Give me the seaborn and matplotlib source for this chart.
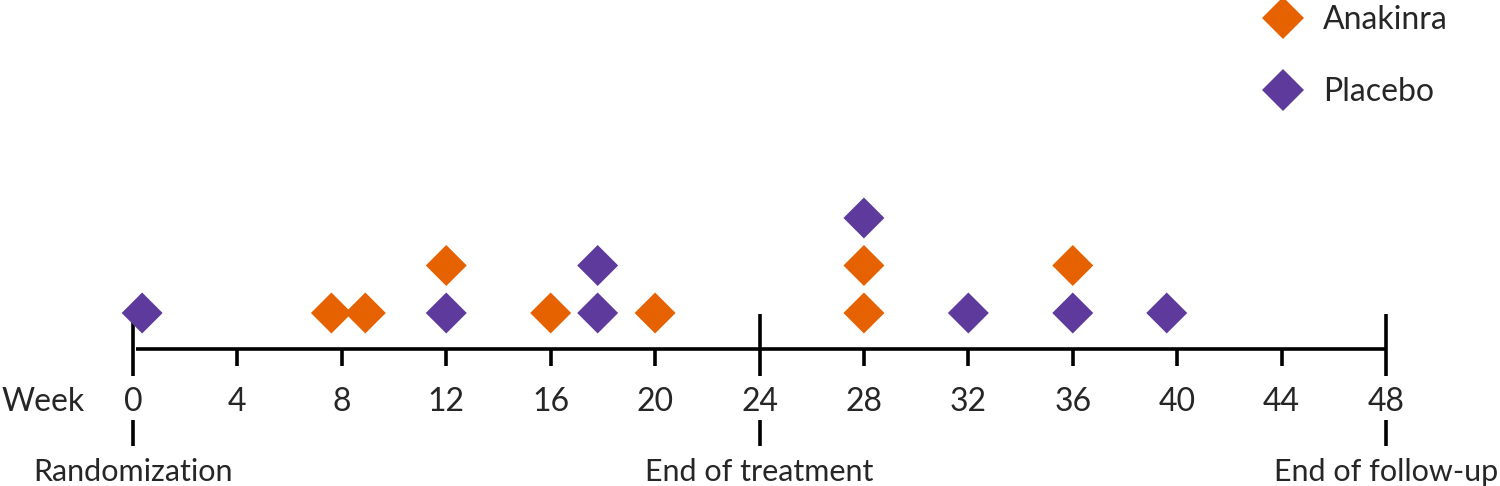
import matplotlib
matplotlib.use("Agg")
import matplotlib.pyplot as plt
from matplotlib.lines import Line2D
import seaborn as sns
import pandas as pd

# events in stacking order (bottom to top for the same week)
weeks = [0.35, 7.6, 8.9, 12, 12, 16, 17.8, 17.8, 20, 28, 28, 28, 32, 36, 36, 39.6]
groups = ["Placebo", "Anakinra", "Anakinra", "Placebo", "Anakinra", "Anakinra",
          "Placebo", "Placebo", "Anakinra", "Anakinra", "Anakinra", "Placebo",
          "Placebo", "Placebo", "Anakinra", "Placebo"]

tick_weeks = list(range(0, 49, 4))
major_weeks = [0, 24, 48]
milestones = ["Randomization", "End of treatment", "End of follow-up"]

colors = {"Anakinra": "#E66100", "Placebo": "#5D3A9B"}

df = pd.DataFrame({"week": weeks, "group": groups})
df["level"] = df.groupby("week").cumcount() + 1

sns.set_style("white")
plt.rcParams["font.family"] = ["Lato", "DejaVu Sans"]
FS = 23

fig = plt.figure(figsize=(15, 4.86), dpi=100)
ax = fig.add_axes([0, 0, 1, 1])
ax.set_xlim(-5.095, 52.366)
ax.set_ylim(-2.642, 7.589)
ax.axis("off")

lw = 2.6
# timeline
ax.hlines(0.242, 0.1, 48, color="black", lw=lw)
minor = [w for w in tick_weeks if w not in major_weeks]
ax.vlines(minor, -0.116, 0.242, color="black", lw=lw)
ax.vlines(major_weeks, -0.326, 0.979, color="black", lw=lw)
ax.vlines(major_weeks, -1.80, -1.253, color="black", lw=lw)

for w in tick_weeks:
    ax.text(w, -0.874, str(w), ha="center", va="center", fontsize=FS)
ax.text(-5.04, -0.874, "Week", ha="left", va="center", fontsize=FS)
for w, lab in zip(major_weeks, milestones):
    ax.text(w, -2.347, lab, ha="center", va="center", fontsize=22)

sns.scatterplot(data=df, x="week", y="level", hue="group", palette=colors,
                marker="D", s=435, linewidth=0, ax=ax, legend=False, zorder=3)

handles = [Line2D([], [], marker="D", color=colors[g], linestyle="none",
                  markersize=20.9, markeredgewidth=0, label=g)
           for g in ["Anakinra", "Placebo"]]
ax.legend(handles=handles, loc="upper left", bbox_to_anchor=(1267 / 1500, 1 - 5 / 486),
          frameon=False, fontsize=FS, handlelength=1.0, handletextpad=0.75,
          labelspacing=1.33, borderpad=0, borderaxespad=0)

fig.savefig("out.png", dpi=100)
